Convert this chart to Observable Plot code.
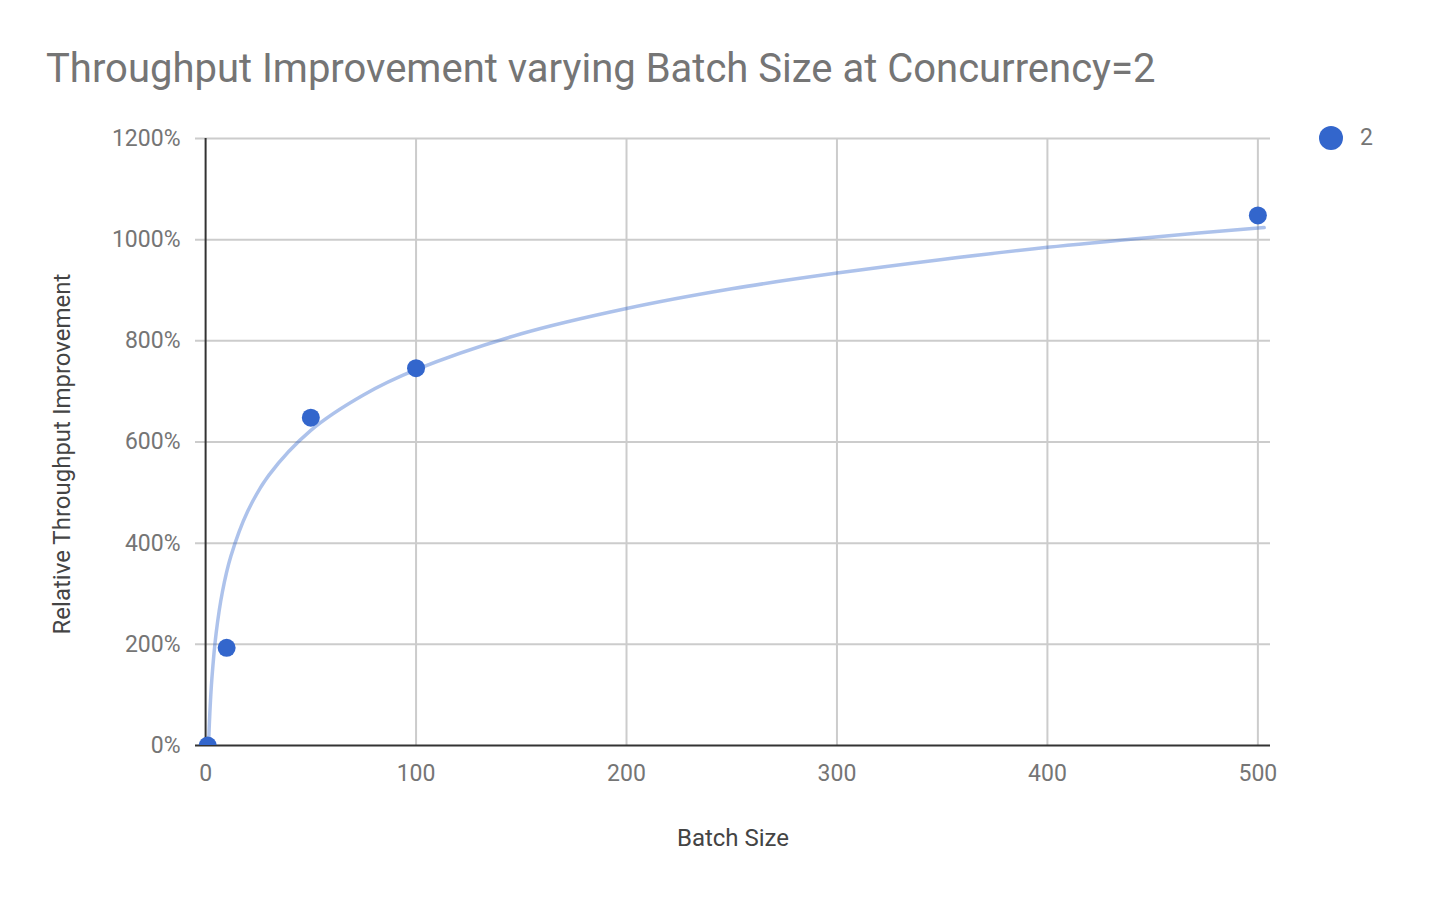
<!DOCTYPE html>
<html><head><meta charset="utf-8">
<script src="https://cdn.jsdelivr.net/npm/d3@7"></script>
<script src="https://cdn.jsdelivr.net/npm/@observablehq/plot@0.6"></script>
<style>
html,body{margin:0;padding:0;background:#fff;font-family:Roboto,sans-serif;}
#wrap{position:relative;width:1452px;height:898px;}
#title{position:absolute;left:46px;top:45px;font-size:40px;line-height:48px;color:#757575;white-space:nowrap;}
#legend{position:absolute;left:1319px;top:125px;display:flex;align-items:center;font-size:23px;line-height:26px;color:#757575;}
#legend .sw{width:24px;height:24px;border-radius:50%;background:#3366cc;margin-right:17px;}
#chart{position:absolute;left:0;top:0;}
</style></head>
<body><div id="wrap"><div id="chart"></div><div id="title">Throughput Improvement varying Batch Size at Concurrency=2</div><div id="legend"><div class="sw"></div><span>2</span></div></div>
<script>
// Data series "2": batch size vs relative throughput improvement (%)
const batchSizes = [1, 10, 50, 100, 500];
const improvement = [0, 193, 648, 746, 1048];
// Trendline readings (batch size, %)
const trendX = [1.4, 2, 3, 5, 8, 12, 20, 30, 50, 75, 100, 150, 200, 250, 300, 350, 400, 450, 503];
const trendY = [0, 63, 133, 222, 304, 374, 463, 534, 623, 693, 743, 814, 864, 903, 934, 961, 985, 1005, 1024];
const xTicks = [0, 100, 200, 300, 400, 500];
const yTicks = [0, 200, 400, 600, 800, 1000, 1200];
const xLabel = "Batch Size";
const yLabel = "Relative Throughput Improvement";

const points = batchSizes.map((x, i) => ({x, y: improvement[i]}));
const trend = trendX.map((x, i) => ({x, y: trendY[i]}));

const chart = Plot.plot({
  width: 1452, height: 898,
  marginLeft: 195, marginRight: 182, marginTop: 138, marginBottom: 153,
  style: {fontFamily: "Roboto, sans-serif", fontSize: "23px", color: "#757575", background: "transparent"},
  x: {domain: [-4.8, 506], ticks: xTicks, tickSize: 0, tickPadding: 19, label: null, tickFormat: d => String(d)},
  y: {domain: [0, 1200], ticks: yTicks, tickSize: 0, tickPadding: 15, label: null, tickFormat: d => d + "%"},
  marks: [
    Plot.ruleY(yTicks.filter(d => d > 0), {stroke: "#cccccc", strokeWidth: 2, strokeOpacity: 1}),
    Plot.ruleX(xTicks.filter(d => d > 0), {stroke: "#cccccc", strokeWidth: 2, strokeOpacity: 1}),
    Plot.ruleX([0], {stroke: "#333333", strokeWidth: 2}),
    Plot.ruleY([0], {stroke: "#333333", strokeWidth: 2}),
    Plot.line(trend, {x: "x", y: "y", stroke: "#3366cc", strokeOpacity: 0.4, strokeWidth: 3.5, curve: "catmull-rom", clip: true}),
    Plot.dot(points, {x: "x", y: "y", r: 9, fill: "#3366cc", stroke: "none", clip: true}),
    Plot.text([xLabel], {frameAnchor: "bottom", lineAnchor: "middle", dy: 93, fill: "#444444", fontSize: 24}),
    Plot.text([yLabel], {frameAnchor: "left", textAnchor: "middle", lineAnchor: "middle", dx: -133, dy: 12, rotate: -90, fill: "#444444", fontSize: 24})
  ]
});
document.getElementById("chart").append(chart);
</script></body></html>
